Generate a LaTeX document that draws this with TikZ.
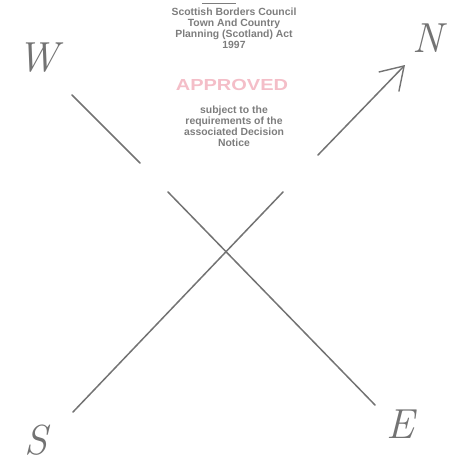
\documentclass[tikz,border=0pt]{standalone}
\usepackage{fontspec}
\newfontfamily\stampfont{Liberation Sans}
\usetikzlibrary{arrows.meta}
\definecolor{pencil}{RGB}{115,115,115}
\definecolor{stampgrey}{RGB}{125,125,125}
\definecolor{stamppink}{RGB}{244,190,200}
\begin{document}
\begin{tikzpicture}[x=1pt,y=-1pt,
  pencilline/.style={draw=pencil,line width=1.5pt,line cap=round},
  compass/.style={text=pencil,font=\fontsize{42}{42}\selectfont\itshape,inner sep=0pt},
  stamptext/.style={text=stampgrey,font=\stampfont\bfseries\fontsize{10.4}{11}\selectfont,align=center,inner sep=0pt},
  stampmark/.style={text=stamppink,font=\stampfont\bfseries\fontsize{16}{16}\selectfont,inner sep=0pt,xscale=1.25}
]
\useasboundingbox (0,0) rectangle (461,469);
% compass letters
\node[compass] (W) at (38,58) {W};
\node[compass] (N) at (428,38) {N};
\node[compass] (S) at (36,440) {S};
\node[compass] (E) at (400,424) {E};
% line ends
\coordinate (nw) at (72,95);
\coordinate (nwa) at (140,163);
\coordinate (nwb) at (168,192);
\coordinate (se) at (375,405);
\coordinate (sw) at (73,412);
\coordinate (nea) at (283,192);
\coordinate (neb) at (318,155);
\coordinate (ne) at (405,65);
% lines
\draw[pencilline] (nw) -- (nwa);
\draw[pencilline] (nwb) -- (se);
\draw[pencilline] (sw) -- (nea);
\draw[pencilline,-{Straight Barb[length=22pt,width=28pt,line width=1.4pt]}] (neb) -- (ne);
% stamp
\coordinate (rulea) at (202,3);
\coordinate (ruleb) at (236,3);
\draw[stampgrey,line width=0.8pt] (rulea) -- (ruleb);
\node[stamptext,anchor=north] (act) at (234,7.5) {Scottish Borders Council\\Town And Country\\Planning (Scotland) Act\\1997};
\node[stampmark] (status) at (232,85) {APPROVED};
\node[stamptext,anchor=north] (cond) at (234,106) {subject to the\\requirements of the\\associated Decision\\Notice};
\end{tikzpicture}
\end{document}
